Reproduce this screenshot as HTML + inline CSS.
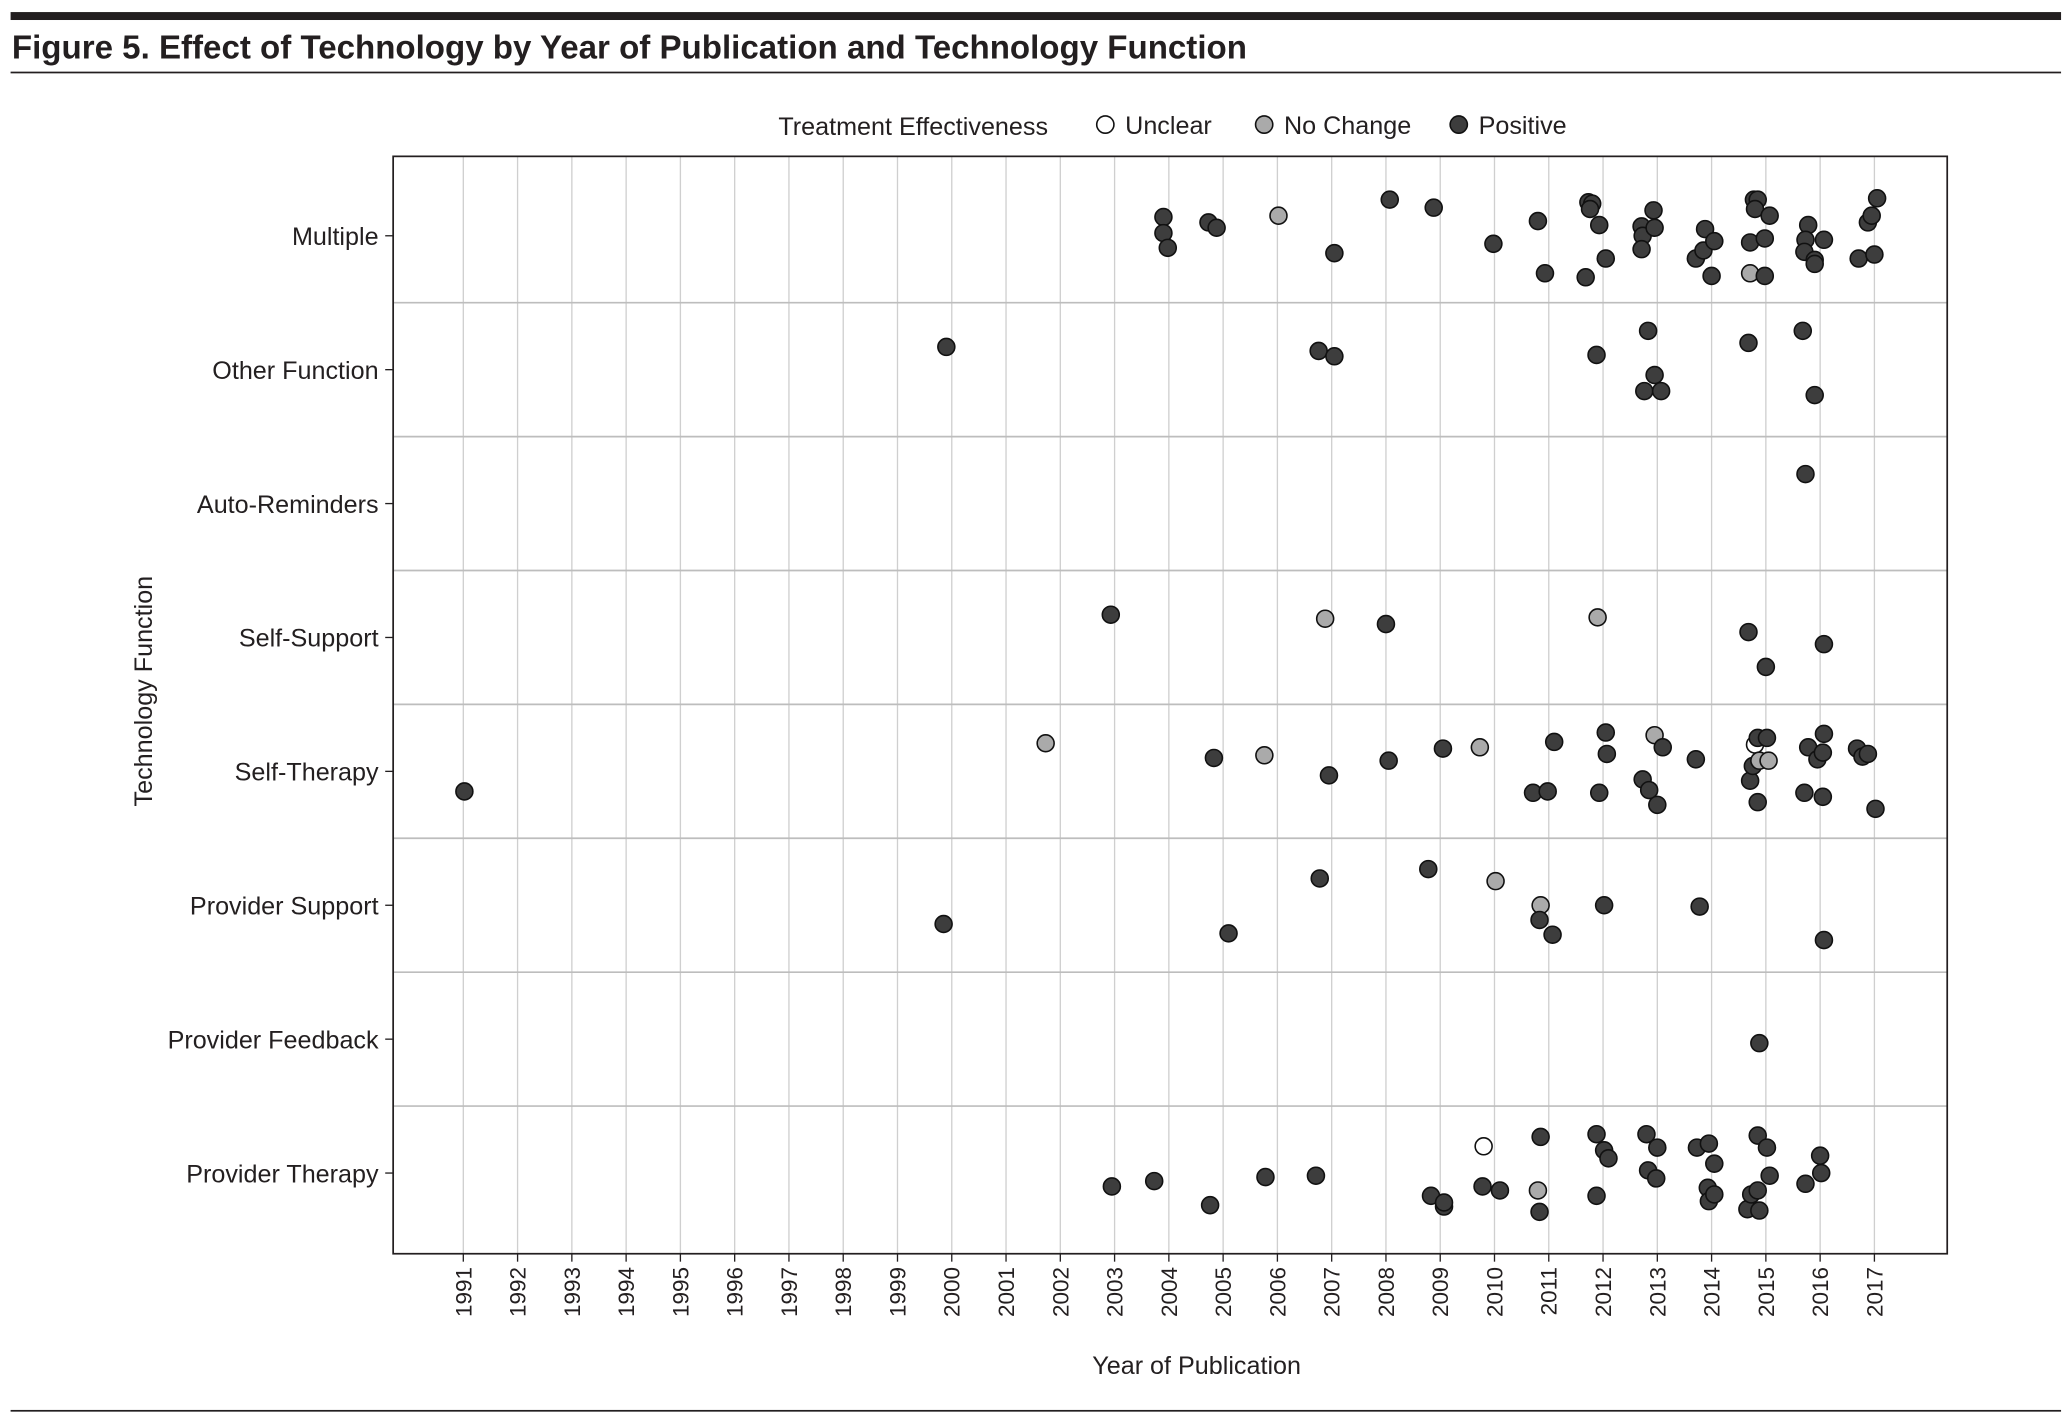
<!DOCTYPE html>
<html><head><meta charset="utf-8">
<style>
html,body{margin:0;padding:0;background:#fff;}
svg{display:block;font-family:"Liberation Sans",sans-serif;}
</style></head>
<body>
<svg id="chart" width="2069" height="1422" viewBox="0 0 1563 1074" xmlns="http://www.w3.org/2000/svg">
<rect x="8" y="9" width="1549" height="6" fill="#231f20"/>
<text x="9" y="44" font-size="25" font-weight="bold" fill="#231f20">Figure 5. Effect of Technology by Year of Publication and Technology Function</text>
<rect x="8" y="54" width="1549" height="1.3" fill="#231f20"/>
<rect x="8" y="1065" width="1549" height="1.3" fill="#231f20"/>
<g id="legend" font-size="19" fill="#231f20">
<text x="588" y="102">Treatment Effectiveness</text>
<g><circle cx="835" cy="94" r="6.5" fill="#fff" stroke="#111" stroke-width="1.2"/><text x="850" y="101">Unclear</text></g>
<g><circle cx="955" cy="94" r="6.5" fill="#aaa" stroke="#111" stroke-width="1.2"/><text x="970" y="101">No Change</text></g>
<g><circle cx="1102" cy="94" r="6.5" fill="#3d3d3d" stroke="#111" stroke-width="1.2"/><text x="1117" y="101">Positive</text></g>
</g>
<g id="grid"></g>
<g id="axes"></g>
<g id="points"></g>
<rect x="297" y="118" width="1174" height="829" fill="none" stroke="#231f20" stroke-width="1.3"/>
<text x="904" y="1038" font-size="19" text-anchor="middle" fill="#231f20">Year of Publication</text>
<text transform="translate(115,522) rotate(-90)" font-size="19" text-anchor="middle" fill="#231f20">Technology Function</text>
</svg>
<script>
const categories = ["Multiple","Other Function","Auto-Reminders","Self-Support","Self-Therapy","Provider Support","Provider Feedback","Provider Therapy"];
const yearTicks = [1991,1992,1993,1994,1995,1996,1997,1998,1999,2000,2001,2002,2003,2004,2005,2006,2007,2008,2009,2010,2011,2012,2013,2014,2015,2016,2017];
const effectLabels = ["Unclear","No Change","Positive"];
// each point: [year, category index, vertical jitter (category units), effect index]
const multiplePts = [[2003.90,0,-0.14,2],[2003.90,0,-0.02,2],[2003.98,0,0.09,2],[2004.73,0,-0.10,2],[2004.88,0,-0.06,2],[2006.02,0,-0.15,1],[2007.05,0,0.13,2],[2008.07,0,-0.27,2],[2008.88,0,-0.21,2],[2009.98,0,0.06,2],[2010.80,0,-0.11,2],[2010.93,0,0.28,2],[2011.68,0,0.31,2],[2011.73,0,-0.25,2],[2011.80,0,-0.24,2],[2011.76,0,-0.20,2],[2011.93,0,-0.08,2],[2012.05,0,0.17,2],[2012.71,0,-0.07,2],[2012.73,0,0,2],[2012.71,0,0.10,2],[2012.93,0,-0.19,2],[2012.95,0,-0.06,2],[2013.71,0,0.17,2],[2013.88,0,-0.05,2],[2013.85,0,0.11,2],[2014.05,0,0.04,2],[2014.00,0,0.30,2],[2014.71,0,0.05,2],[2014.71,0,0.28,1],[2014.78,0,-0.27,2],[2014.85,0,-0.27,2],[2014.80,0,-0.20,2],[2014.98,0,0.02,2],[2014.98,0,0.30,2],[2015.07,0,-0.15,2],[2015.78,0,-0.08,2],[2015.73,0,0.03,2],[2015.71,0,0.12,2],[2015.90,0,0.18,2],[2015.90,0,0.21,2],[2016.07,0,0.03,2],[2016.71,0,0.17,2],[2016.88,0,-0.10,2],[2016.95,0,-0.15,2],[2017.00,0,0.14,2],[2017.05,0,-0.28,2]];
const otherPts = [[1999.90,1,-0.17,2],[2006.76,1,-0.14,2],[2007.05,1,-0.10,2],[2011.88,1,-0.11,2],[2012.83,1,-0.29,2],[2012.95,1,0.04,2],[2012.76,1,0.16,2],[2013.07,1,0.16,2],[2014.68,1,-0.20,2],[2015.68,1,-0.29,2],[2015.90,1,0.19,2]];
const autoPts = [[2015.73,2,-0.22,2]];
const selfSupportPts = [[2002.93,3,-0.17,2],[2006.88,3,-0.14,1],[2008.00,3,-0.10,2],[2011.90,3,-0.15,1],[2014.68,3,-0.04,2],[2015.00,3,0.22,2],[2016.07,3,0.05,2]];
const selfTherapyPts = [[1991.02,4,0.15,2],[2001.73,4,-0.21,1],[2004.83,4,-0.10,2],[2005.76,4,-0.12,1],[2006.95,4,0.03,2],[2008.05,4,-0.08,2],[2009.05,4,-0.17,2],[2009.73,4,-0.18,1],[2010.71,4,0.16,2],[2010.98,4,0.15,2],[2011.10,4,-0.22,2],[2011.93,4,0.16,2],[2012.05,4,-0.29,2],[2012.07,4,-0.13,2],[2012.73,4,0.06,2],[2012.85,4,0.14,2],[2013.00,4,0.25,2],[2012.95,4,-0.27,1],[2013.10,4,-0.18,2],[2013.71,4,-0.09,2],[2014.71,4,0.07,2],[2014.76,4,-0.04,2],[2014.80,4,-0.20,0],[2014.85,4,-0.25,2],[2014.85,4,0.23,2],[2014.88,4,-0.08,1],[2015.02,4,-0.25,2],[2015.05,4,-0.08,1],[2015.71,4,0.16,2],[2015.78,4,-0.18,2],[2015.95,4,-0.09,2],[2016.05,4,-0.14,2],[2016.05,4,0.19,2],[2016.07,4,-0.28,2],[2016.68,4,-0.17,2],[2016.78,4,-0.11,2],[2016.88,4,-0.13,2],[2017.02,4,0.28,2]];
const providerSupportPts = [[1999.85,5,0.14,2],[2005.10,5,0.21,2],[2006.78,5,-0.20,2],[2008.78,5,-0.27,2],[2010.02,5,-0.18,1],[2010.85,5,0,1],[2010.83,5,0.11,2],[2011.07,5,0.22,2],[2012.02,5,0,2],[2013.78,5,0.01,2],[2016.07,5,0.26,2]];
const providerFeedbackPts = [[2014.88,6,0.03,2]];
const providerTherapyPts = [[2002.95,7,0.10,2],[2003.73,7,0.06,2],[2004.76,7,0.24,2],[2005.78,7,0.03,2],[2006.71,7,0.02,2],[2008.83,7,0.17,2],[2009.07,7,0.25,2],[2009.07,7,0.22,2],[2009.78,7,0.10,2],[2009.80,7,-0.20,0],[2010.10,7,0.13,2],[2010.80,7,0.13,1],[2010.85,7,-0.27,2],[2010.83,7,0.29,2],[2011.88,7,-0.29,2],[2011.88,7,0.17,2],[2012.02,7,-0.17,2],[2012.10,7,-0.11,2],[2012.80,7,-0.29,2],[2012.83,7,-0.02,2],[2012.98,7,0.04,2],[2013.00,7,-0.19,2],[2013.73,7,-0.19,2],[2013.95,7,-0.22,2],[2013.93,7,0.11,2],[2013.95,7,0.21,2],[2014.05,7,0.16,2],[2014.05,7,-0.07,2],[2014.66,7,0.27,2],[2014.73,7,0.16,2],[2014.85,7,-0.28,2],[2014.85,7,0.13,2],[2014.88,7,0.28,2],[2015.02,7,-0.19,2],[2015.07,7,0.02,2],[2015.73,7,0.08,2],[2016.02,7,0,2],[2016.00,7,-0.13,2]];

const NS="http://www.w3.org/2000/svg";
const X0=297,X1=1471,Y0=118,Y1=947;
function xScale(yr){return 350+(yr-1991)*41;}
function yScale(c){return 178+c*101.15;}
const fills=["#ffffff","#aaaaaa","#3d3d3d"];
function mk(tag,attrs,parent){const e=document.createElementNS(NS,tag);for(const k in attrs)e.setAttribute(k,attrs[k]);parent.appendChild(e);return e;}
const grid=document.getElementById('grid'),axes=document.getElementById('axes'),pts=document.getElementById('points');
yearTicks.forEach(yr=>{
  const x=xScale(yr);
  const l=mk('line',{x1:x,x2:x,y1:Y0,y2:Y1,stroke:'#cfcfcf','stroke-width':1},grid);
  
  
  const t=mk('line',{x1:x,x2:x,y1:Y1,y2:Y1+6,stroke:'#231f20','stroke-width':1},axes);
  
  
  const tx=mk('text',{transform:`translate(${x+6},${Y1+10}) rotate(-90)`,'font-size':17,'text-anchor':'end',fill:'#231f20'},axes);
  tx.textContent=yr;
  
  
});
categories.forEach((c,i)=>{
  const y=yScale(i);
  if(i>0){const b=mk('line',{x1:X0,x2:X1,y1:y-50.6,y2:y-50.6,stroke:'#bdbdbd','stroke-width':1.3},grid);
    
    }
  const t=mk('line',{x1:X0-6,x2:X0,y1:y,y2:y,stroke:'#231f20','stroke-width':1},axes);
  
  
  const tx=mk('text',{x:X0-11,y:y+7,'font-size':19,'text-anchor':'end',fill:'#231f20'},axes);
  tx.textContent=c;
  
  
});
const all=[].concat(multiplePts,otherPts,autoPts,selfSupportPts,selfTherapyPts,providerSupportPts,providerFeedbackPts,providerTherapyPts);
all.forEach(p=>{
  const c=mk('circle',{cx:xScale(p[0]),cy:yScale(p[1]+p[2]),r:6.4,fill:fills[p[3]],stroke:'#111','stroke-width':1.2},pts);
  
  
});
</script>
</body></html>
